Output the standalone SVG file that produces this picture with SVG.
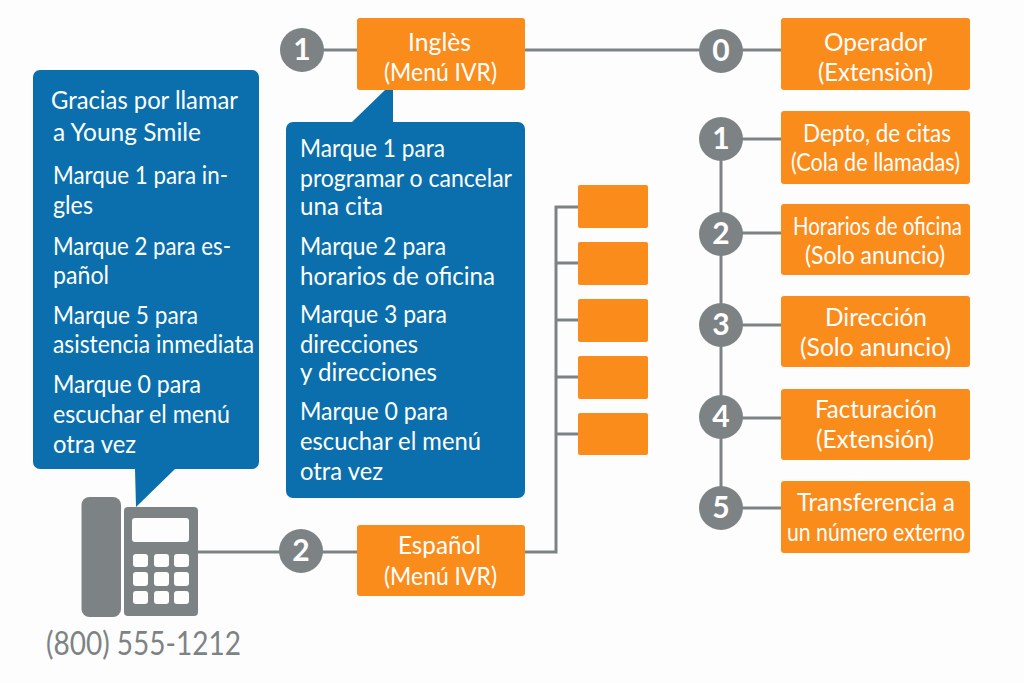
<svg xmlns="http://www.w3.org/2000/svg" width="1024" height="683" viewBox="0 0 1024 683">
<style>
text{font-family:"Lato","Noto Sans","Liberation Sans",sans-serif;fill:#fff}
.b{font-size:25px}
.o{font-size:25.500px}
.n{font-size:30px;font-weight:700;text-anchor:middle}
.box{fill:#fa8c1c}
.bub{fill:#0a6fac}
.c{fill:#7d8384}
.l{stroke:#7d8384;stroke-width:3;fill:none}
.k{fill:#fdfdfd}
</style>
<rect width="1024" height="683" fill="#fdfdfd"/>
<g id="connectors" class="l">
<path d="M302 50H357M525 50H781"/>
<path d="M198 552H357"/>
<path d="M525 552H556V207H578M556 263H578M556 320H578M556 377H578M556 434H578"/>
<path d="M721 139V508M721 139H781M721 233H781M721 325H781M721 418H781M721 508H781"/>
</g>
<g id="bubble-main"><path class="bub" d="M41 70H252a7 7 0 0 1 7 7V462a7 7 0 0 1-7 7H175L136 507L135 469H40a7 7 0 0 1-7-7V77a7 7 0 0 1 7-7Z"/>
<text class="b" x="51" y="109" textLength="187" lengthAdjust="spacingAndGlyphs">Gracias por llamar</text>
<text class="b" x="53" y="141" textLength="148" lengthAdjust="spacingAndGlyphs">a Young Smile</text>
<text class="b" x="53" y="184" textLength="175" lengthAdjust="spacingAndGlyphs">Marque 1 para in-</text>
<text class="b" x="53" y="214" textLength="40" lengthAdjust="spacingAndGlyphs">gles</text>
<text class="b" x="53" y="255" textLength="178" lengthAdjust="spacingAndGlyphs">Marque 2 para es-</text>
<text class="b" x="53" y="284" textLength="56" lengthAdjust="spacingAndGlyphs">pañol</text>
<text class="b" x="53" y="324" textLength="145" lengthAdjust="spacingAndGlyphs">Marque 5 para</text>
<text class="b" x="53" y="353" textLength="201" lengthAdjust="spacingAndGlyphs">asistencia inmediata</text>
<text class="b" x="53" y="393" textLength="148" lengthAdjust="spacingAndGlyphs">Marque 0 para</text>
<text class="b" x="53" y="423" textLength="177" lengthAdjust="spacingAndGlyphs">escuchar el menú</text>
<text class="b" x="53" y="453" textLength="83" lengthAdjust="spacingAndGlyphs">otra vez</text></g>
<g id="bubble-ingles"><path class="bub" d="M294 122H352L385 90H393V122H518a7 7 0 0 1 7 7V491a7 7 0 0 1-7 7H293a7 7 0 0 1-7-7V129a7 7 0 0 1 7-7Z"/>
<text class="b" x="300" y="157" textLength="145" lengthAdjust="spacingAndGlyphs">Marque 1 para</text>
<text class="b" x="300" y="187" textLength="212" lengthAdjust="spacingAndGlyphs">programar o cancelar</text>
<text class="b" x="300" y="215" textLength="83" lengthAdjust="spacingAndGlyphs">una cita</text>
<text class="b" x="300" y="255" textLength="146" lengthAdjust="spacingAndGlyphs">Marque 2 para</text>
<text class="b" x="300" y="285" textLength="195" lengthAdjust="spacingAndGlyphs">horarios de oficina</text>
<text class="b" x="300" y="323" textLength="147" lengthAdjust="spacingAndGlyphs">Marque 3 para</text>
<text class="b" x="300" y="353" textLength="118" lengthAdjust="spacingAndGlyphs">direcciones</text>
<text class="b" x="300" y="381" textLength="137" lengthAdjust="spacingAndGlyphs">y direcciones</text>
<text class="b" x="300" y="420" textLength="148" lengthAdjust="spacingAndGlyphs">Marque 0 para</text>
<text class="b" x="300" y="450" textLength="181" lengthAdjust="spacingAndGlyphs">escuchar el menú</text>
<text class="b" x="300" y="480" textLength="83" lengthAdjust="spacingAndGlyphs">otra vez</text></g>
<g id="phone"><rect class="c" x="81.5" y="497" width="39.500" height="120" rx="8"/>
<rect class="c" x="124" y="507" width="74" height="109" rx="4"/>
<rect class="k" x="132" y="518" width="57" height="24" rx="3"/>
<g class="k">
<rect x="133" y="554" width="15" height="13" rx="3"/><rect x="154" y="554" width="15" height="13" rx="3"/><rect x="174" y="554" width="15" height="13" rx="3"/>
<rect x="133" y="572" width="15" height="14" rx="3"/><rect x="154" y="572" width="15" height="14" rx="3"/><rect x="174" y="572" width="15" height="14" rx="3"/>
<rect x="133" y="591" width="15" height="13" rx="3"/><rect x="154" y="591" width="15" height="13" rx="3"/><rect x="174" y="591" width="15" height="13" rx="3"/>
</g>
<text x="46" y="655" font-size="33" textLength="195" lengthAdjust="spacingAndGlyphs" style="fill:#7d8384">(800) 555-1212</text></g>
<g id="n-ingles"><circle class="c" cx="302" cy="50" r="22"/><text class="n" x="302" y="60">1</text></g>
<g id="n-espanol"><circle class="c" cx="301" cy="551" r="22"/><text class="n" x="301" y="561">2</text></g>
<g id="n0"><circle class="c" cx="721" cy="51" r="22"/><text class="n" x="721" y="61">0</text></g>
<g id="n1"><circle class="c" cx="721" cy="139" r="22"/><text class="n" x="721" y="149">1</text></g>
<g id="n2"><circle class="c" cx="721" cy="234" r="22"/><text class="n" x="721" y="244">2</text></g>
<g id="n3"><circle class="c" cx="721" cy="325" r="22"/><text class="n" x="721" y="335">3</text></g>
<g id="n4"><circle class="c" cx="721" cy="417" r="22"/><text class="n" x="721" y="427">4</text></g>
<g id="n5"><circle class="c" cx="721" cy="508" r="22"/><text class="n" x="721" y="518">5</text></g>
<g id="ingles"><rect class="box" x="357" y="18" width="168" height="72" rx="3"/><text class="o" x="408" y="51" textLength="63" lengthAdjust="spacingAndGlyphs">Inglès</text><text class="o" x="384" y="81" textLength="113" lengthAdjust="spacingAndGlyphs">(Menú IVR)</text></g>
<g id="espanol"><rect class="box" x="357" y="525" width="168" height="71" rx="3"/><text class="o" x="398" y="554" textLength="83" lengthAdjust="spacingAndGlyphs">Español</text><text class="o" x="384" y="585" textLength="113" lengthAdjust="spacingAndGlyphs">(Menú IVR)</text></g>
<g id="e1"><rect class="box" x="578" y="185" width="70" height="43" rx="2"/></g>
<g id="e2"><rect class="box" x="578" y="242" width="70" height="43" rx="2"/></g>
<g id="e3"><rect class="box" x="578" y="299" width="70" height="43" rx="2"/></g>
<g id="e4"><rect class="box" x="578" y="356" width="70" height="43" rx="2"/></g>
<g id="e5"><rect class="box" x="578" y="413" width="70" height="42" rx="2"/></g>
<g id="operador"><rect class="box" x="781" y="18" width="189" height="72" rx="3"/><text class="o" x="824" y="51" textLength="103" lengthAdjust="spacingAndGlyphs">Operador</text><text class="o" x="818" y="81" textLength="115" lengthAdjust="spacingAndGlyphs">(Extensiòn)</text></g>
<g id="citas"><rect class="box" x="781" y="111" width="189" height="73" rx="3"/><text class="o" x="803" y="142" textLength="148" lengthAdjust="spacingAndGlyphs">Depto, de citas</text><text class="o" x="791" y="171" textLength="169" lengthAdjust="spacingAndGlyphs">(Cola de llamadas)</text></g>
<g id="horarios"><rect class="box" x="781" y="204" width="189" height="71" rx="3"/><text class="o" x="793" y="235" textLength="169" lengthAdjust="spacingAndGlyphs">Horarios de oficina</text><text class="o" x="805" y="264" textLength="140" lengthAdjust="spacingAndGlyphs">(Solo anuncio)</text></g>
<g id="direccion"><rect class="box" x="781" y="296" width="189" height="71" rx="3"/><text class="o" x="825" y="326" textLength="102" lengthAdjust="spacingAndGlyphs">Dirección</text><text class="o" x="800" y="356" textLength="151" lengthAdjust="spacingAndGlyphs">(Solo anuncio)</text></g>
<g id="facturacion"><rect class="box" x="781" y="389" width="189" height="71" rx="3"/><text class="o" x="815" y="418" textLength="122" lengthAdjust="spacingAndGlyphs">Facturación</text><text class="o" x="816" y="448" textLength="118" lengthAdjust="spacingAndGlyphs">(Extensión)</text></g>
<g id="transferencia"><rect class="box" x="781" y="481" width="189" height="72" rx="3"/><text class="o" x="797" y="511" textLength="158" lengthAdjust="spacingAndGlyphs">Transferencia a</text><text class="o" x="787" y="541" textLength="178" lengthAdjust="spacingAndGlyphs">un número externo</text></g>
</svg>
